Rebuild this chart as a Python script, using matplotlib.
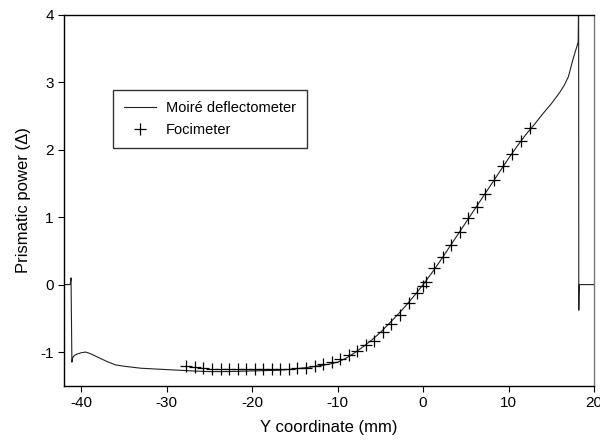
import matplotlib
matplotlib.use('Agg')
import matplotlib.pyplot as plt

plt.rcParams['font.family'] = ['Liberation Sans', 'DejaVu Sans']
plt.rcParams['axes.unicode_minus'] = False

# Moire deflectometer profile
mx = [-42, -41.3, -41.25, -41.2, -41.1, -41.0, -40.8, -40.5, -40.0, -39.5,
      -39.0, -38.0, -37.0, -36.0, -35.0, -33.0, -30.0, -27.0, -25.0, -23.0,
      -20.0, -17.0, -15.0, -13.0, -11.0, -10.0, -9.0, -8.0, -7.0, -6.0,
      -5.0, -4.0, -3.0, -2.0, -1.0, 0.0, 1.0, 2.0, 3.0, 4.0,
      5.0, 6.0, 7.0, 8.0, 9.0, 10.0, 11.0, 12.0, 13.0, 14.0,
      15.0, 16.0, 16.5, 17.0, 17.5, 17.8, 18.0, 18.15, 18.2, 18.22,
      18.25, 18.3, 18.35, 20.0]
my = [0, 0, 0.05, 0.1, -1.15, -1.08, -1.05, -1.03, -1.01, -1.0,
      -1.02, -1.08, -1.14, -1.19, -1.21, -1.24, -1.26, -1.28, -1.29, -1.29,
      -1.28, -1.27, -1.25, -1.22, -1.18, -1.15, -1.09, -1.01, -0.92, -0.82,
      -0.71, -0.58, -0.45, -0.31, -0.16, 0.0, 0.17, 0.35, 0.54, 0.73,
      0.92, 1.11, 1.30, 1.49, 1.68, 1.87, 2.05, 2.22, 2.37, 2.53,
      2.68, 2.85, 2.95, 3.08, 3.32, 3.45, 3.53, 3.6, 4.3, -0.38,
      -0.1, 0.0, 0.0, 0.0]

# Focimeter measurements
fx = [-27.7, -26.7, -25.7, -24.7, -23.7, -22.7, -21.7, -20.7, -19.7, -18.7,
      -17.7, -16.7, -15.7, -14.7, -13.7, -12.7, -11.7, -10.7, -9.7, -8.7,
      -7.7, -6.7, -5.7, -4.7, -3.7, -2.7, -1.7, -0.7, 0.0, 0.3,
      1.3, 2.3, 3.3, 4.3, 5.3, 6.3, 7.3, 8.3, 9.4, 10.4,
      11.4, 12.5]
fy = [-1.21, -1.22, -1.24, -1.25, -1.25, -1.25, -1.25, -1.25, -1.25, -1.25,
      -1.25, -1.25, -1.25, -1.24, -1.23, -1.21, -1.17, -1.15, -1.11, -1.05,
      -0.98, -0.90, -0.83, -0.71, -0.58, -0.45, -0.28, -0.13, -0.02, 0.04,
      0.24, 0.41, 0.59, 0.78, 0.98, 1.15, 1.35, 1.55, 1.76, 1.94,
      2.13, 2.32]

xticks = [-40, -30, -20, -10, 0, 10, 20]
yticks = [-1, 0, 1, 2, 3, 4]

fig = plt.figure(figsize=(6, 4.46), dpi=100)
ax = fig.add_axes([0.107, 0.135, 0.883, 0.832])

ax.plot(mx, my, color='#222222', lw=0.8, label='Moiré deflectometer')
ax.plot(fx, fy, ls='none', marker='+', ms=8, mew=0.9, color='black',
        label='Focimeter')

ax.set_xlim(-42, 20)
ax.set_ylim(-1.5, 4)
ax.set_xticks(xticks)
ax.set_yticks(yticks)
ax.tick_params(direction='out', length=4, width=0.8, labelsize=11,
               top=False, right=False)
for s in ax.spines.values():
    s.set_linewidth(1.0)
ax.spines['right'].set_color('#777777')

ax.set_xlabel('Y coordinate (mm)', fontsize=12, labelpad=7)
ax.set_ylabel('Prismatic power (\u0394)', fontsize=12, labelpad=7)

leg = ax.legend(loc='upper left', bbox_to_anchor=(0.092, 0.798), fontsize=10.5,
                frameon=True, fancybox=False, handlelength=2.2,
                borderpad=0.75, labelspacing=0.6, handletextpad=0.7,
                borderaxespad=0)
leg.get_frame().set_edgecolor('black')
leg.get_frame().set_linewidth(1.0)

fig.savefig('out.png', dpi=100)
